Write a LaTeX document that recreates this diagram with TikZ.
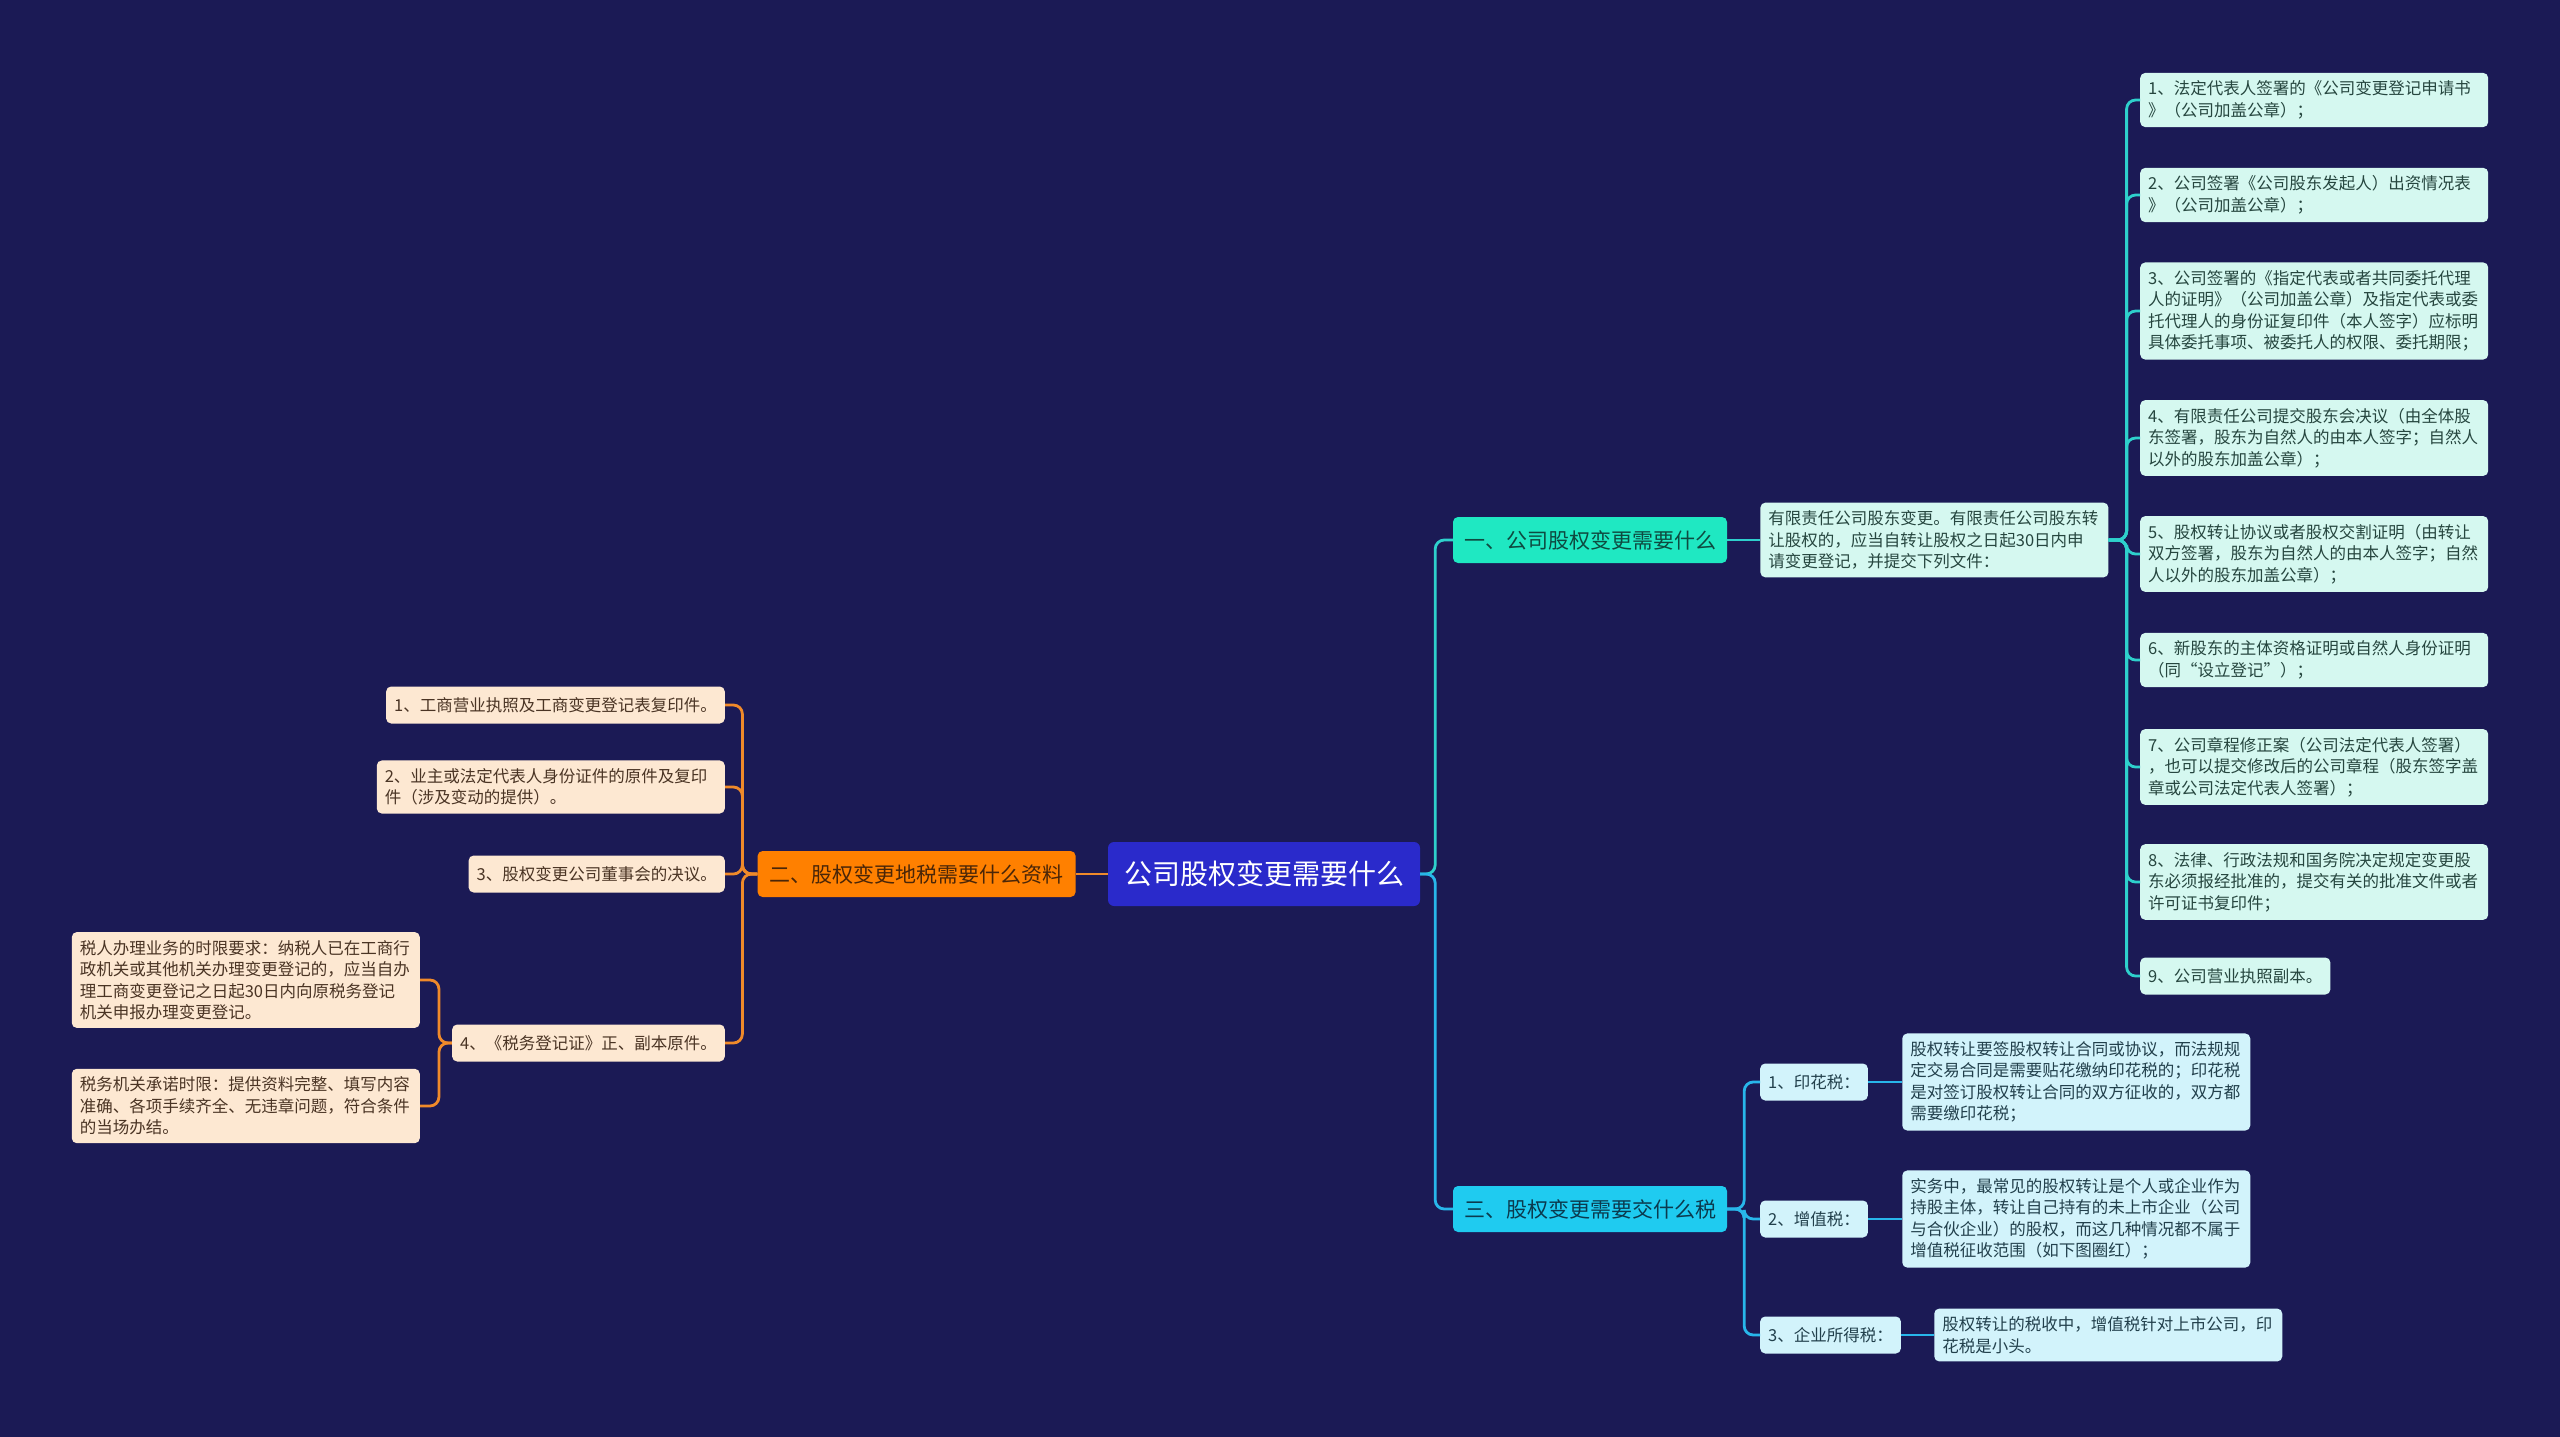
\documentclass[tikz,border=0pt]{standalone}
\usepackage{fontspec}
\newfontfamily\cjk{Noto Sans CJK SC}
\usepackage{xcolor}
\usepackage{tikz}
\usetikzlibrary{positioning,calc}
\definecolor{bgnavy}{HTML}{1B1A55}
\definecolor{rootblue}{HTML}{2A2ACB}
\definecolor{teal}{HTML}{1FE8C2}
\definecolor{tealink}{HTML}{0E4A40}
\definecolor{tealline}{HTML}{2ED0CC}
\definecolor{mint}{HTML}{D5F8F0}
\definecolor{mintink}{HTML}{26463F}
\definecolor{sky}{HTML}{1FCBF0}
\definecolor{skyink}{HTML}{0B3A4E}
\definecolor{skyline}{HTML}{28B6EA}
\definecolor{pale}{HTML}{D2F3FB}
\definecolor{paleink}{HTML}{22404C}
\definecolor{orng}{HTML}{FF8000}
\definecolor{orngink}{HTML}{4A2608}
\definecolor{orline}{HTML}{F08A2A}
\definecolor{peach}{HTML}{FDE8D2}
\definecolor{peachink}{HTML}{4A3424}

\begin{document}
\begin{tikzpicture}[x=1pt,y=-1pt,
				every node/.style={font=\cjk},
				rootbox/.style={rounded corners=6pt,fill=rootblue,text=white,
						minimum width=312pt,minimum height=64pt,font=\cjk\fontsize{28}{32}\selectfont},
				mainbox/.style={rounded corners=5pt,minimum height=46pt,inner xsep=9pt,
						font=\cjk\fontsize{21}{25}\selectfont},
				leaf/.style={rounded corners=5pt,align=left,inner xsep=8pt,inner ysep=8pt,
						minimum height=37pt,font=\cjk\fontsize{16.5}{21.5}\selectfont},
				wide/.style={text width=332pt},
				tealleaf/.style={leaf,fill=mint,text=mintink},
				skyleaf/.style={leaf,fill=pale,text=paleink},
				orleaf/.style={leaf,fill=peach,text=peachink},
				link/.style={line width=2.8pt,rounded corners=9pt}]

				\fill[bgnavy] (0,0) rectangle (2560,1437);
				\useasboundingbox (0,0) rectangle (2560,1437);

				% centre and the three branches
				\node[rootbox] (root) at (1264,874) {公司股权变更需要什么};
				\node[mainbox,fill=orng,text=orngink,minimum width=318pt,left=32pt of root] (b2) {二、股权变更地税需要什么资料};
				\node[mainbox,fill=teal,text=tealink,minimum width=274pt] (b1) at (1590,540) {一、公司股权变更需要什么};
				\node[mainbox,fill=sky,text=skyink,minimum width=274pt] (b3) at (1590,1209) {三、股权变更需要交什么税};

				% branch one
				\node[tealleaf,wide,right=33pt of b1] (n1) {有限责任公司股东变更。有限责任公司股东转\\让股权的，应当自转让股权之日起30日内申\\请变更登记，并提交下列文件：};
				\node[tealleaf,wide,anchor=west] (r1) at (2140,100) {1、法定代表人签署的《公司变更登记申请书\\》（公司加盖公章）；};
				\node[tealleaf,wide,anchor=west] (r2) at (2140,195) {2、公司签署《公司股东发起人）出资情况表\\》（公司加盖公章）；};
				\node[tealleaf,wide,anchor=west] (r3) at (2140,311) {3、公司签署的《指定代表或者共同委托代理\\人的证明》（公司加盖公章）及指定代表或委\\托代理人的身份证复印件（本人签字）应标明\\具体委托事项、被委托人的权限、委托期限；};
				\node[tealleaf,wide,anchor=west] (r4) at (2140,438) {4、有限责任公司提交股东会决议（由全体股\\东签署，股东为自然人的由本人签字；自然人\\以外的股东加盖公章）；};
				\node[tealleaf,wide,anchor=west] (r5) at (2140,554) {5、股权转让协议或者股权交割证明（由转让\\双方签署，股东为自然人的由本人签字；自然\\人以外的股东加盖公章）；};
				\node[tealleaf,wide,anchor=west] (r6) at (2140,660) {6、新股东的主体资格证明或自然人身份证明\\（同“设立登记”）；};
				\node[tealleaf,wide,anchor=west] (r7) at (2140,767) {7、公司章程修正案（公司法定代表人签署）\\，也可以提交修改后的公司章程（股东签字盖\\章或公司法定代表人签署）；};
				\node[tealleaf,wide,anchor=west] (r8) at (2140,882) {8、法律、行政法规和国务院决定规定变更股\\东必须报经批准的，提交有关的批准文件或者\\许可证书复印件；};
				\node[tealleaf,anchor=west] (r9) at (2140,976) {9、公司营业执照副本。};

				% branch three
				\node[skyleaf,anchor=west] (t1) at (1760,1082) {1、印花税：};
				\node[skyleaf,anchor=west] (t2) at (1760,1219) {2、增值税：};
				\node[skyleaf,anchor=west] (t3) at (1760,1335) {3、企业所得税：};
				\node[skyleaf,wide,right=34pt of t1] (d1) {股权转让要签股权转让合同或协议，而法规规\\定交易合同是需要贴花缴纳印花税的；印花税\\是对签订股权转让合同的双方征收的，双方都\\需要缴印花税；};
				\node[skyleaf,wide,right=34pt of t2] (d2) {实务中，最常见的股权转让是个人或企业作为\\持股主体，转让自己持有的未上市企业（公司\\与合伙企业）的股权，而这几种情况都不属于\\增值税征收范围（如下图圈红）；};
				\node[skyleaf,wide,right=33pt of t3] (d3) {股权转让的税收中，增值税针对上市公司，印\\花税是小头。};

				% branch two
				\node[orleaf,anchor=east] (l1) at (725,705) {1、工商营业执照及工商变更登记表复印件。};
				\node[orleaf,wide,anchor=east] (l2) at (725,787) {2、业主或法定代表人身份证件的原件及复印\\件（涉及变动的提供）。};
				\node[orleaf,anchor=east] (l3) at (725,874) {3、股权变更公司董事会的决议。};
				\node[orleaf,anchor=east] (l4) at (725,1043) {4、《税务登记证》正、副本原件。};
				\node[orleaf,wide,anchor=east] (s1) at (420,980) {税人办理业务的时限要求：纳税人已在工商行\\政机关或其他机关办理变更登记的，应当自办\\理工商变更登记之日起30日内向原税务登记\\机关申报办理变更登记。};
				\node[orleaf,wide,anchor=east] (s2) at (420,1106) {税务机关承诺时限：提供资料完整、填写内容\\准确、各项手续齐全、无违章问题，符合条件\\的当场办结。};

				% connectors
				\draw[link,orline] (root.west) -- (b2.east);
				\draw[link,tealline] (root.east) -- ++(15,0) |- (b1.west);
				\draw[link,skyline] (root.east) -- ++(15,0) |- (b3.west);
				\draw[link,tealline] (b1.east) -- (n1.west);
				\foreach \i in {1,...,9}
					\draw[link,tealline] (n1.east) -- ++(18,0) |- (r\i.west);
				\foreach \i in {1,2,3} {
					\draw[link,skyline] (b3.east) -- ++(17,0) |- (t\i.west);
					\draw[link,skyline] (t\i.east) -- (d\i.west);
				}
				\foreach \i in {1,...,4}
					\draw[link,orline] (b2.west) -- ++(-15,0) |- (l\i.east);
				\foreach \i in {1,2}
					\draw[link,orline] (l4.west) -- ++(-13,0) |- (s\i.east);
			\end{tikzpicture}
\end{document}
